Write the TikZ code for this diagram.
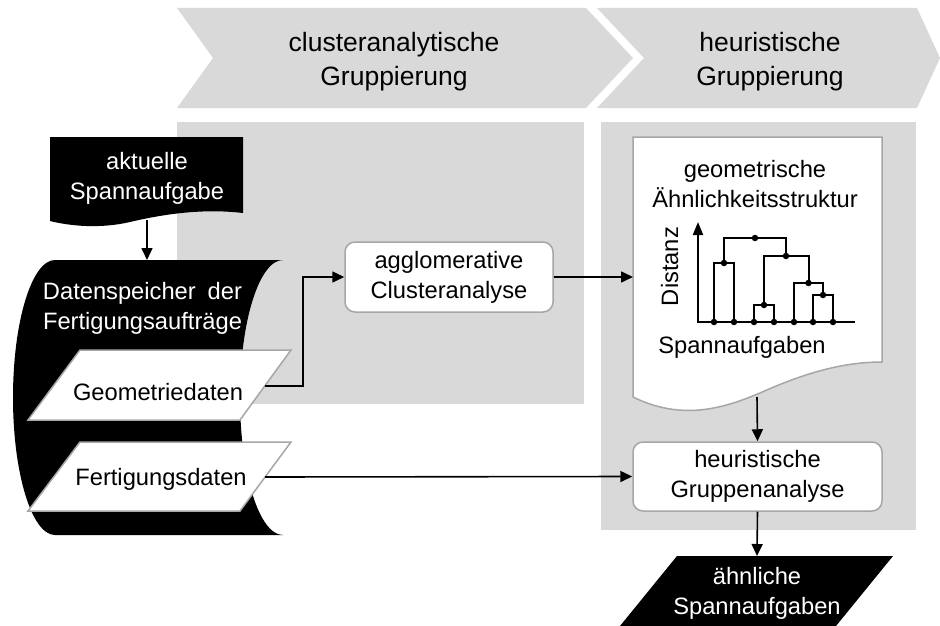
\documentclass[tikz,border=0pt]{standalone}
\usepackage{fontspec}
\setmainfont{Liberation Sans}
\usetikzlibrary{arrows.meta,positioning}

\tikzset{
    phase/.style={fill=black!15},
    lbl/.style={align=center,font=\fontsize{23.7}{30}\selectfont},
    title/.style={align=center,font=\fontsize{26.5}{33.5}\selectfont},
    procbox/.style={lbl,draw=black!35,line width=1.5pt,fill=white,
        rounded corners=10pt,inner sep=0pt},
    flow/.style={line width=1.6pt,-{Triangle[length=12pt,width=11pt]}},
    tree/.style={line width=2pt},
    dot/.style={circle,fill=black,inner sep=0pt,minimum size=6.5pt},
}

\begin{document}
\begin{tikzpicture}[x=1pt,y=-1pt]
\useasboundingbox (0,0) rectangle (940,626);

% Phase arrows
\draw[phase,draw=none] (177,8) -- (586,8) -- (633,58) -- (586,108)
    -- (177,108) -- (213,58) -- cycle;
\draw[phase,draw=none] (597,8) -- (917,8) -- (940,58) -- (917,108)
    -- (597,108) -- (644,58) -- cycle;
\node[title] (clusterhead) at (394,61.5) {clusteranalytische\\Gruppierung};
\node[title] (heurhead) at (770,61.5) {heuristische\\Gruppierung};

% Gray phase boxes
\fill[phase] (177,122) rectangle (584,404);
\fill[phase] (601,122) rectangle (916,530);

% Input document
\fill (50,137) -- (243,137) -- (243,213)
    .. controls (200,208) and (160,215) .. (130,222)
    .. controls (100,229) and (70,226) .. (50,221) -- cycle;
\node[lbl,text=white] (current) at (147,178) {aktuelle\\Spannaufgabe};
\coordinate (current-s) at (147,220);

% Stored data
\fill (55,260) -- (283,260)
    .. controls (259.25,260) and (240,321.6) .. (240,397.5)
    .. controls (240,473.4) and (259.25,535) .. (283,535)
    -- (55,535)
    .. controls (31.8,535) and (13,473.4) .. (13,397.5)
    .. controls (13,321.6) and (31.8,260) .. (55,260) -- cycle;
\node[lbl,text=white] (store) at (142.5,308)
    {Datenspeicher\hspace{12pt}der\\Fertigungsaufträge};
\coordinate (store-n) at (147,260);

% Data inputs
\draw[fill=white,draw=black!35,line width=1.5pt]
    (80,350) -- (291,350) -- (240,420) -- (28,420) -- cycle;
\node[lbl,anchor=base] (geo) at (158,400) {Geometriedaten};
\coordinate (geo-e) at (265,386);
\draw[fill=white,draw=black!35,line width=1.5pt]
    (80,442) -- (291,442) -- (240,511) -- (28,511) -- cycle;
\node[lbl,anchor=base] (prod) at (161,485) {Fertigungsdaten};
\coordinate (prod-e) at (265,477);

% Processes
\node[procbox,minimum width=208pt,minimum height=70pt] (cluster)
    at (449,277) {agglomerative\\Clusteranalyse};
\node[procbox,minimum width=249pt,minimum height=69pt] (heur)
    at (757.5,476.5) {heuristische\\Gruppenanalyse};

% Result document
\draw[fill=white,draw=black!35,line width=1.5pt]
    (633,137) -- (882,137) -- (882,362)
    .. controls (840,362) and (800,375) .. (760,393)
    .. controls (720,410) and (680,420) .. (633,397) -- cycle;
\node[lbl] (simstruct) at (755,184) {geometrische\\Ähnlichkeitsstruktur};
\node[lbl,anchor=base] (tasks) at (742,353) {Spannaufgaben};
\node[lbl,anchor=base,rotate=90] (dist) at (678,266.5) {Distanz};
\coordinate (doc-w) at (633,277);
\coordinate (doc-s) at (757,397);

% Dendrogram
\draw[tree,-{Triangle[length=13pt,width=10pt]}] (698,322) -- (698,222);
\draw[tree] (697,322) -- (855,322);
\draw[tree] (714,322) |- (734,263) -- (734,322);
\draw[tree] (754,322) |- (774,305) -- (774,322);
\draw[tree] (813,322) |- (833,295) -- (833,322);
\draw[tree] (794,322) |- (823,283) -- (823,295);
\draw[tree] (764,305) |- (808.5,256) -- (808.5,283);
\draw[tree] (724,263) |- (786,238) -- (786,256);
\foreach \lx in {714,734,754,774,794,813,833}
    \node[dot] at (\lx,322) {};
\foreach \mx/\my in {724/263,764/305,823/295,808.5/283,786/256,755/238}
    \node[dot] at (\mx,\my) {};

% Output
\fill (677,556) -- (893,556) -- (836,626) -- (620,626) -- cycle;
\node[lbl,text=white] (output) at (757,593) {ähnliche\\Spannaufgaben};
\coordinate (output-n) at (757,556);

% Connectors
\draw[flow] (current-s) -- (store-n);
\draw[flow] (geo-e) -| (303,277) -- (cluster.west);
\draw[flow] (cluster.east) -- (doc-w);
\draw[flow] (doc-s) -- (heur.north);
\draw[flow] (prod-e) -- (heur.west);
\draw[flow] (heur.south) -- (output-n);
\end{tikzpicture}
\end{document}
